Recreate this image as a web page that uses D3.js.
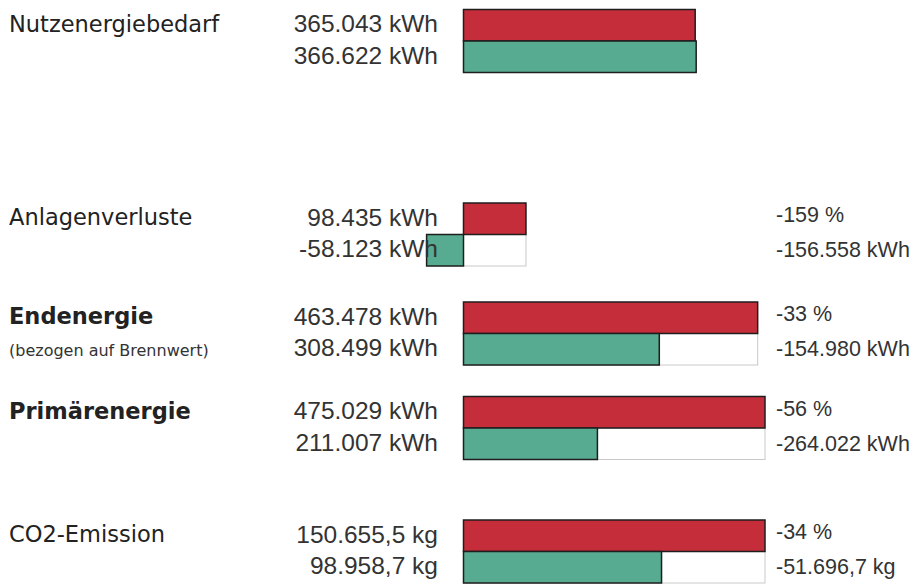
<!DOCTYPE html>
<html>
<head>
<meta charset="utf-8">
<script src="https://cdn.jsdelivr.net/npm/d3@7"></script>
<style>
  body { margin: 0; background: #fff; }
  svg text { font-family: "DejaVu Sans", sans-serif; }
  .val { font-family: "Liberation Sans", Arial, sans-serif; fill: #333; }
</style>
</head>
<body>
<div id="chart"></div>
<script>
// Werte (vorher = rot, nachher = grün)
var categories = ["Nutzenergiebedarf", "Anlagenverluste", "Endenergie", "Primärenergie", "CO2-Emission"];
var subtitles  = ["", "", "(bezogen auf Brennwert)", "", ""];
var units      = ["kWh", "kWh", "kWh", "kWh", "kg"];
var before     = [365043, 98435, 463478, 475029, 150655.5];
var after      = [366622, -58123, 308499, 211007, 98958.7];
var savings    = [null, -156558, -154980, -264022, -51696.7];

var width = 917, height = 587;

var de = d3.formatLocale({decimal: ",", thousands: ".", grouping: [3], currency: ["", " €"], minus: "-"});
var fmtKwh = de.format(",.0f"),
    fmtKg  = de.format(",.1f");

function fmt(v, unit) {
  return (unit === "kg" ? fmtKg(v) : fmtKwh(v)) + " " + unit;
}

var rows = categories.map(function(c, i) {
  return {name: c, sub: subtitles[i], unit: units[i], before: before[i], after: after[i], diff: savings[i]};
});

var svg = d3.select('#chart')
            .append('svg')
            .attr('width', width)
            .attr('height', height);

// separate scales for energy (kWh) and CO2 (kg)
var barX0 = 463.5, barW = 301.5;
var energyMax = d3.max(rows.filter(function(d) { return d.unit === "kWh"; }), function(d) { return Math.max(d.before, d.after); });
var co2Max = d3.max(rows.filter(function(d) { return d.unit === "kg"; }), function(d) { return Math.max(d.before, d.after); });

var xEnergy = d3.scaleLinear().domain([0, energyMax]).range([0, barW]);
var xCo2 = d3.scaleLinear().domain([0, co2Max]).range([0, barW]);
function xFor(d) { return d.unit === "kg" ? xCo2 : xEnergy; }

// row positions (uneven spacing as in the original form)
var y = d3.scaleOrdinal()
          .domain(categories)
          .range([9.5, 203, 302, 396.5, 520]);

var inner = d3.scaleBand()
              .domain(["before", "after"])
              .range([0, 63]);

var g = svg.selectAll('g.row')
           .data(rows)
           .enter().append('g')
           .attr('class', 'row')
           .attr('transform', function(d) { return 'translate(0,' + y(d.name) + ')'; });

// reference box (width of "before") behind the green bar
g.append('rect')
  .attr('x', function(d) { return barX0 + xFor(d)(0); })
  .attr('y', inner('after'))
  .attr('width', function(d) { return xFor(d)(d.before) - xFor(d)(0); })
  .attr('height', inner.bandwidth())
  .attr('fill', '#fff')
  .attr('stroke', '#c9c9c9')
  .attr('stroke-width', 1);

g.append('rect')
  .attr('x', function(d) { return barX0 + xFor(d)(Math.min(0, d.before)); })
  .attr('y', inner('before'))
  .attr('width', function(d) { return Math.abs(xFor(d)(d.before) - xFor(d)(0)); })
  .attr('height', inner.bandwidth())
  .attr('fill', '#c62d3a')
  .attr('stroke', '#1e1e1e')
  .attr('stroke-width', 1.5);

g.append('rect')
  .attr('x', function(d) { return barX0 + xFor(d)(Math.min(0, d.after)); })
  .attr('y', inner('after'))
  .attr('width', function(d) { return Math.abs(xFor(d)(d.after) - xFor(d)(0)); })
  .attr('height', inner.bandwidth())
  .attr('fill', '#56ab90')
  .attr('stroke', '#1e1e1e')
  .attr('stroke-width', 1.5);

// category labels
g.append('text')
  .attr('x', 9)
  .attr('y', 22)
  .attr('font-size', 22.5)
  .attr('font-weight', function(d) { return d.sub || d.name === "Primärenergie" ? 'bold' : 'normal'; })
  .attr('fill', '#222')
  .text(function(d) { return d.name; });

g.filter(function(d) { return d.sub; })
  .append('text')
  .attr('x', 9)
  .attr('y', 54)
  .attr('font-size', 16)
  .attr('fill', '#333')
  .text(function(d) { return d.sub; });

// values left of the bars
g.append('text')
  .attr('class', 'val')
  .attr('x', 438)
  .attr('y', inner('before') + inner.bandwidth() / 2 + 7)
  .attr('text-anchor', 'end')
  .attr('font-size', 24.5)
  .text(function(d) { return fmt(d.before, d.unit); });

g.append('text')
  .attr('class', 'val')
  .attr('x', 438)
  .attr('y', inner('after') + inner.bandwidth() / 2 + 7)
  .attr('text-anchor', 'end')
  .attr('font-size', 24.5)
  .text(function(d) { return fmt(d.after, d.unit); });

// change in percent and absolute
var r = g.filter(function(d) { return d.diff !== null; });

r.append('text')
  .attr('class', 'val')
  .attr('x', 776)
  .attr('y', 19)
  .attr('font-size', 21.5)
  .text(function(d) { return Math.round(d.diff / d.before * 100) + " %"; });

r.append('text')
  .attr('class', 'val')
  .attr('x', 776)
  .attr('y', 54)
  .attr('font-size', 21.5)
  .text(function(d) { return fmt(d.diff, d.unit); });
</script>
</body>
</html>
